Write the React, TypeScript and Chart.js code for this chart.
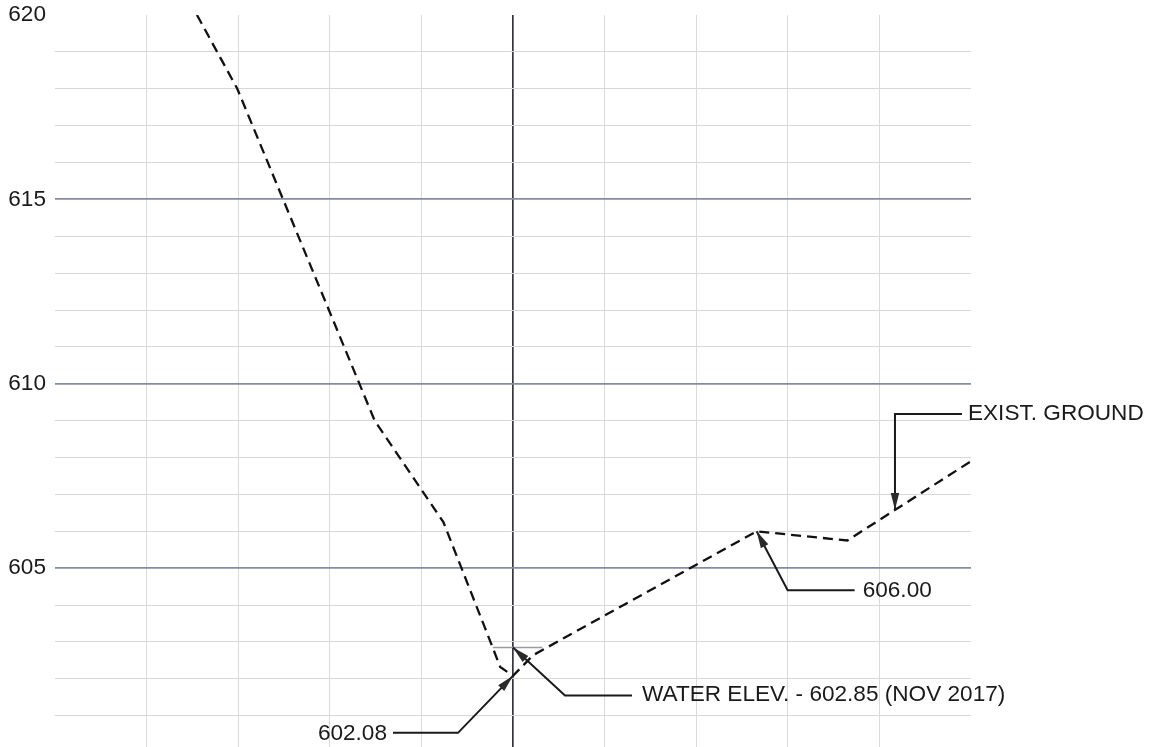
import React, { useEffect, useRef } from "react";
import { Chart, registerables } from "chart.js";

Chart.register(...registerables);

// ---- data ----
const groundX = [1.55, 1.99, 3.49, 4.24, 4.77, 4.86, 5.0, 5.22, 7.66, 8.65, 10.0];
const groundY = [620.0, 618.0, 609.0, 606.25, 602.9, 602.32, 602.08, 602.64, 606.0, 605.75, 607.9];
const waterX = [4.78, 5.32];
const waterY = [602.85, 602.85];
const yTickValues = [601, 602, 603, 604, 605, 606, 607, 608, 609, 610, 611, 612, 613, 614, 615, 616, 617, 618, 619, 620];
const yLabelled = [605, 610, 615, 620];
const xGridValues = [0, 1, 2, 3, 4, 5, 6, 7, 8, 9, 10];

const leaderTexts = ["602.08", "WATER ELEV. - 602.85 (NOV 2017)", "606.00", "EXIST. GROUND"];
const leaderAnchorX = [5.0, 5.0, 7.66, 9.17];
const leaderAnchorY = [602.08, 602.85, 606.0, 606.58];

// ---- layout of the leader callouts (pixel offsets from the anchor) ----
const leaderLayout = [
  { path: [[-55, 57], [-120, 57]], text: [-126, 58], align: "right" },
  { path: [[52, 48], [119, 48]], text: [129, 47], align: "left" },
  { path: [[31, 59], [98, 59]], text: [106, 59], align: "left" },
  { path: [[0, -96], [67, -96]], text: [73, -96], align: "left" },
];

const FONT = '"Liberation Sans", Arial, sans-serif';

const leaderPlugin = {
  id: "leaders",
  afterDatasetsDraw(chart: any) {
    const { ctx } = chart;
    const xs = chart.scales.x;
    const ys = chart.scales.y;
    ctx.save();
    leaderTexts.forEach((text, i) => {
      const lay = leaderLayout[i];
      const tx = xs.getPixelForValue(leaderAnchorX[i]);
      const ty = ys.getPixelForValue(leaderAnchorY[i]);
      const pts = lay.path.map(([dx, dy]) => [tx + dx, ty + dy]);
      ctx.strokeStyle = "#1a1a1a";
      ctx.fillStyle = "#2a2a2a";
      ctx.lineWidth = 2;
      ctx.beginPath();
      ctx.moveTo(tx, ty);
      pts.forEach((p) => ctx.lineTo(p[0], p[1]));
      ctx.stroke();
      const [fx, fy] = pts[0];
      const ang = Math.atan2(ty - fy, tx - fx);
      const L = 17;
      const W = 4.2;
      const c = Math.cos(ang);
      const s = Math.sin(ang);
      ctx.beginPath();
      ctx.moveTo(tx, ty);
      ctx.lineTo(tx - L * c + W * s, ty - L * s - W * c);
      ctx.lineTo(tx - L * c - W * s, ty - L * s + W * c);
      ctx.closePath();
      ctx.fill();
      ctx.font = `22.6px ${FONT}`;
      ctx.fillStyle = "#1a1a1a";
      ctx.textAlign = lay.align;
      ctx.textBaseline = "middle";
      ctx.fillText(text, tx + lay.text[0], ty + lay.text[1]);
    });
    ctx.restore();
  },
};

export default function App() {
  const ref = useRef<HTMLCanvasElement | null>(null);

  useEffect(() => {
    if (!ref.current) return;
    const chart = new Chart(ref.current, {
      type: "line",
      data: {
        datasets: [
          {
            label: "Water",
            data: waterX.map((x, i) => ({ x, y: waterY[i] })),
            borderColor: "#9a9aa6",
            borderWidth: 1.6,
            pointRadius: 0,
            tension: 0,
          },
          {
            label: "Exist. Ground",
            data: groundX.map((x, i) => ({ x, y: groundY[i] })),
            borderColor: "#111111",
            borderWidth: 2.3,
            borderDash: [10, 6],
            pointRadius: 0,
            tension: 0,
          },
        ],
      },
      options: {
        responsive: false,
        animation: false,
        events: [],
        layout: { padding: { top: 15, right: 181, bottom: 0, left: 0 } },
        plugins: { legend: { display: false }, tooltip: { enabled: false } },
        scales: {
          x: {
            type: "linear",
            min: 0,
            max: 10,
            afterBuildTicks: (scale: any) => {
              scale.ticks = xGridValues.map((v) => ({ value: v }));
            },
            afterFit: (scale: any) => {
              scale.height = 0;
              scale.paddingLeft = 0;
              scale.paddingRight = 0;
            },
            ticks: { display: false },
            border: { display: false },
            grid: {
              drawTicks: false,
              color: (ctx: any) => {
                const v = ctx.tick ? ctx.tick.value : 0;
                if (v === 0 || v === 10) return "rgba(0,0,0,0)";
                if (v === 5) return "#36363e";
                return "#dadada";
              },
              lineWidth: (ctx: any) => (ctx.tick && ctx.tick.value === 5 ? 1.7 : 1),
            },
          },
          y: {
            type: "linear",
            min: 600.15,
            max: 620,
            afterBuildTicks: (scale: any) => {
              scale.ticks = yTickValues.map((v) => ({ value: v }));
            },
            afterFit: (scale: any) => {
              scale.width = 55;
              scale.paddingTop = 0;
              scale.paddingBottom = 0;
            },
            border: { display: false },
            ticks: {
              padding: 9,
              color: "#1a1a1a",
              font: { family: FONT, size: 22.6 },
              callback: (v: any) => (yLabelled.includes(Number(v)) ? String(v) : ""),
            },
            grid: {
              drawTicks: false,
              color: (ctx: any) => {
                const v = ctx.tick ? ctx.tick.value : 0;
                if (v === 620) return "rgba(0,0,0,0)";
                if (v % 5 === 0) return "#878ba0";
                return "#d8d8d8";
              },
              lineWidth: (ctx: any) => (ctx.tick && ctx.tick.value % 5 === 0 ? 1.8 : 1),
            },
          },
        },
      },
      plugins: [leaderPlugin],
    } as any);
    return () => chart.destroy();
  }, []);

  return (
    <div style={{ position: "fixed", left: 0, top: 0, width: 1152, height: 747, background: "#fff" }}>
      <canvas ref={ref} width={1152} height={747} style={{ display: "block" }} />
    </div>
  );
}
